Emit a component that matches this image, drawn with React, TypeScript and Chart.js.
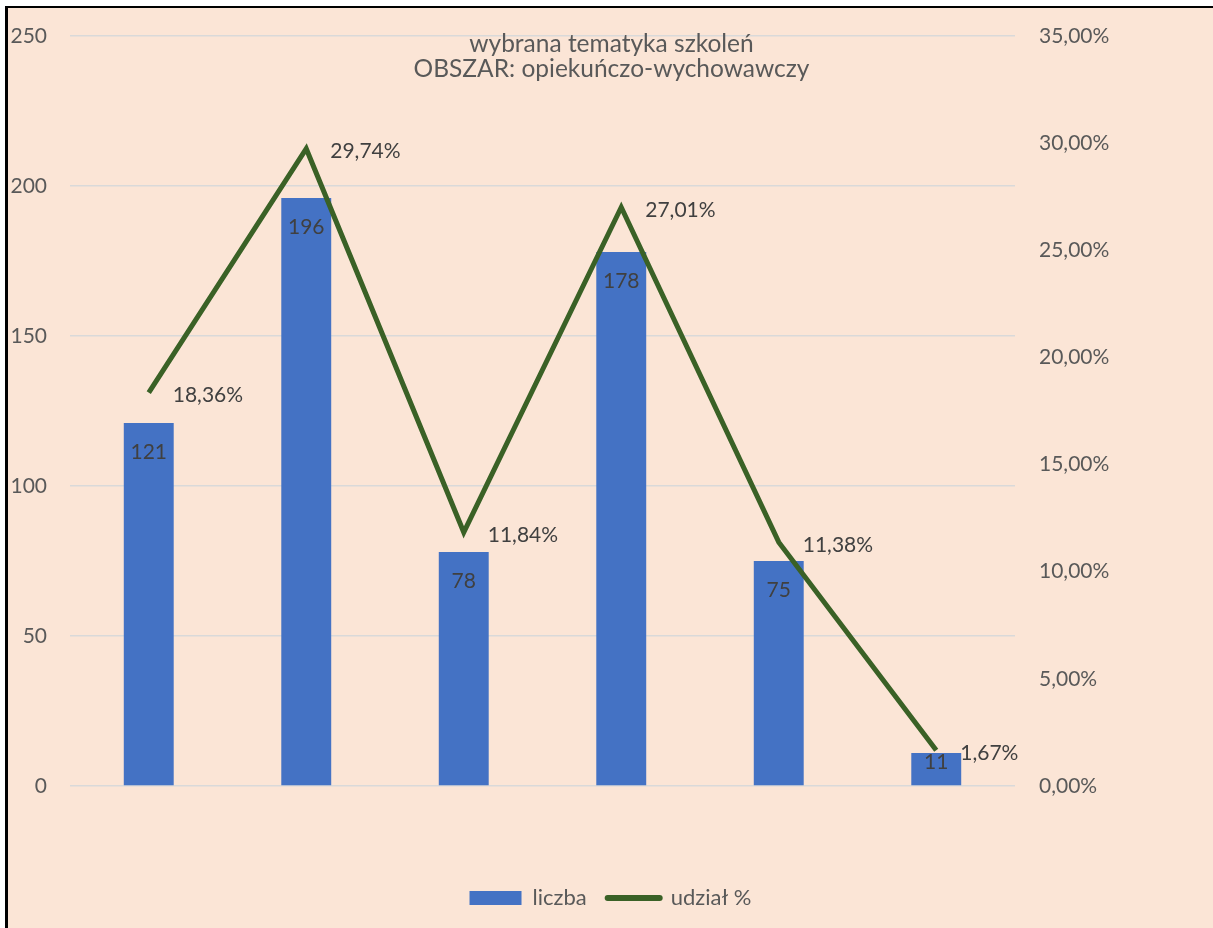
import React, { useEffect, useRef } from 'react';
import { Chart, registerables } from 'chart.js';

Chart.register(...registerables);

const categories = ['1', '2', '3', '4', '5', '6'];
const liczba = [121, 196, 78, 178, 75, 11];
const udzial = [18.36, 29.74, 11.84, 27.01, 11.38, 1.67];
const seriesNames = ['liczba', 'udział %'];
const titleLines = ['wybrana tematyka szkoleń', 'OBSZAR: opiekuńczo-wychowawczy'];
const leftMax = 250;
const leftStep = 50;
const rightMax = 35;
const rightStep = 5;

const FONT = 'Lato';
const BAR_COLOR = '#4472C4';
const LINE_COLOR = '#3A6126';
const BG = '#FBE5D6';

const fmtPct = (v: number) => v.toFixed(2).replace('.', ',') + '%';

const W = 1205;
const H = 919;

const valueLabels = {
  id: 'valueLabels',
  afterDatasetsDraw(chart: any) {
    const ctx = chart.ctx;
    ctx.save();
    ctx.font = `21px ${FONT}`;
    ctx.fillStyle = '#404040';
    ctx.textBaseline = 'alphabetic';
    const cap = 7.5;
    const barMeta = chart.getDatasetMeta(0);
    barMeta.data.forEach((el: any, i: number) => {
      const { x, y, base } = el.getProps(['x', 'y', 'base'], true);
      const cy = Math.min(y + 28.5, base - 24);
      ctx.textAlign = 'center';
      ctx.fillText(String(liczba[i]), x, cy + cap);
    });
    const lineMeta = chart.getDatasetMeta(1);
    lineMeta.data.forEach((el: any, i: number) => {
      ctx.textAlign = 'left';
      ctx.fillText(fmtPct(udzial[i]), el.x + 24, el.y + 2 + cap);
    });
    ctx.restore();
  },
};

const titlePlugin = {
  id: 'overlayTitle',
  afterDraw(chart: any) {
    const ctx = chart.ctx;
    ctx.save();
    ctx.font = `24.5px ${FONT}`;
    ctx.fillStyle = '#595959';
    ctx.textAlign = 'center';
    ctx.textBaseline = 'alphabetic';
    const cx = chart.width / 2 + 1;
    ctx.fillText(titleLines[0], cx, 44);
    ctx.fillText(titleLines[1], cx, 69);
    ctx.restore();
  },
};

const noVPad = (s: any) => {
  s.paddingTop = 0;
  s.paddingBottom = 0;
};

export default function App() {
  const ref = useRef<HTMLCanvasElement | null>(null);

  useEffect(() => {
    if (!ref.current) return;
    const chart = new Chart(ref.current, {
      type: 'bar',
      data: {
        labels: categories,
        datasets: [
          {
            type: 'bar',
            label: seriesNames[0],
            data: liczba,
            backgroundColor: BAR_COLOR,
            borderWidth: 0,
            yAxisID: 'y',
            order: 1,
            categoryPercentage: 1,
            barPercentage: 0.317,
          },
          {
            type: 'line',
            label: seriesNames[1],
            data: udzial,
            borderColor: LINE_COLOR,
            backgroundColor: LINE_COLOR,
            borderWidth: 5,
            pointRadius: 0,
            tension: 0,
            yAxisID: 'y1',
            order: 0,
          } as any,
        ],
      },
      options: {
        animation: false,
        responsive: false,
        maintainAspectRatio: false,
        layout: { padding: { top: 28, left: 0, right: 0, bottom: 8 } },
        plugins: {
          title: { display: false },
          tooltip: { enabled: false },
          legend: {
            display: true,
            position: 'bottom',
            labels: {
              usePointStyle: true,
              pointStyleWidth: 52,
              boxHeight: 14,
              padding: 21,
              color: '#595959',
              font: { family: FONT, size: 22 },
              generateLabels: () => [
                {
                  text: seriesNames[0],
                  fillStyle: BAR_COLOR,
                  strokeStyle: BAR_COLOR,
                  lineWidth: 0,
                  pointStyle: 'rect',
                  datasetIndex: 0,
                  fontColor: '#595959',
                } as any,
                {
                  text: seriesNames[1],
                  fillStyle: LINE_COLOR,
                  strokeStyle: LINE_COLOR,
                  lineWidth: 6,
                  lineCap: 'round',
                  pointStyle: 'line',
                  datasetIndex: 1,
                  fontColor: '#595959',
                } as any,
              ],
            },
          },
        },
        scales: {
          x: {
            display: true,
            grid: { display: false },
            border: { display: false },
            ticks: { display: false },
            afterFit: (s: any) => {
              s.height = 80;
            },
          },
          y: {
            position: 'left',
            min: 0,
            max: leftMax,
            ticks: {
              stepSize: leftStep,
              padding: 23,
              color: '#595959',
              font: { family: FONT, size: 21 },
            },
            grid: { color: '#D9D9D9', lineWidth: 1.5, drawTicks: false },
            border: { display: false },
            afterFit: (s: any) => {
              s.width = 62;
              noVPad(s);
            },
          },
          y1: {
            position: 'right',
            min: 0,
            max: rightMax,
            ticks: {
              stepSize: rightStep,
              padding: 24,
              color: '#595959',
              font: { family: FONT, size: 21 },
              callback: (v: any) => fmtPct(Number(v)),
            },
            grid: { display: false, drawTicks: false },
            border: { display: false },
            afterFit: (s: any) => {
              s.width = W - 1007;
              noVPad(s);
            },
          },
        },
      },
      plugins: [valueLabels, titlePlugin],
    });
    return () => chart.destroy();
  }, []);

  return (
    <div
      style={{
        position: 'fixed',
        left: 0,
        top: 0,
        width: 1213,
        height: 928,
        overflow: 'hidden',
        background: '#ffffff',
      }}
    >
      <div
        style={{
          position: 'absolute',
          left: 5,
          top: 6,
          width: W + 20,
          height: H + 20,
          borderLeft: '3px solid #000',
          borderTop: '2px solid #000',
          background: BG,
          boxSizing: 'content-box',
        }}
      >
        <canvas ref={ref} width={W} height={H} style={{ display: 'block', width: W, height: H }} />
      </div>
    </div>
  );
}
